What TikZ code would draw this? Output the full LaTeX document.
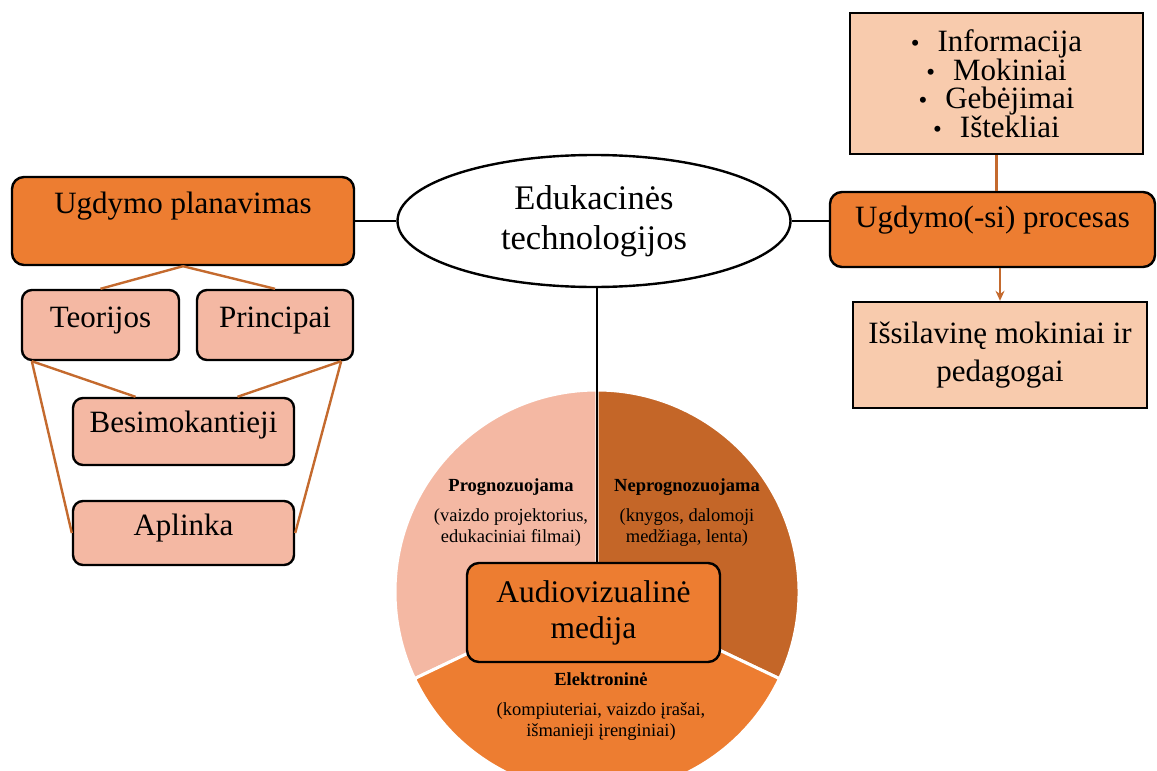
\documentclass[tikz,border=0pt]{standalone}
\usepackage{fontspec}
\setmainfont{Liberation Serif}
\usetikzlibrary{shapes.geometric,arrows.meta}

\definecolor{orangebox}{HTML}{ED7D31}
\definecolor{pinkbox}{HTML}{F4B8A3}
\definecolor{peachbox}{HTML}{F8CBAD}
\definecolor{darkpie}{HTML}{C46628}
\definecolor{linkcol}{HTML}{C46A2E}

\newcommand{\itm}[1]{{\fontsize{25}{25}\selectfont\textbullet}\hspace{18pt}#1}

\begin{document}
\begin{tikzpicture}[x=1pt,y=-1pt,
  sbox/.style={draw,line width=2.4pt,inner sep=0pt,align=center,font=\fontsize{31}{35}\selectfont},
  rbox/.style={sbox,rounded corners=12pt},
  link/.style={draw=linkcol,line width=2.4pt},
  joint/.style={draw=black,line width=2.4pt},
  piebit/.style={draw=white,line width=3pt},
  pietext/.style={align=center,font=\fontsize{18.5}{21}\selectfont}]
\clip (0,0) rectangle (1157,771);

% pie of media
\coordinate (pie) at (597,592);
\filldraw[piebit,fill=pinkbox] (pie) -- ++(-90:202) arc[start angle=-90,end angle=-205.4,radius=202] -- cycle;
\filldraw[piebit,fill=darkpie] (pie) -- ++(25.4:202) arc[start angle=25.4,end angle=-90,radius=202] -- cycle;
\filldraw[piebit,fill=orangebox] (pie) -- ++(154.6:202) arc[start angle=154.6,end angle=25.4,radius=202] -- cycle;

\node[pietext] (prog) at (511,513) {\textbf{Prognozuojama}\\[9pt](vaizdo projektorius,\\edukaciniai filmai)};
\node[pietext] (neprog) at (687,513) {\textbf{Neprognozuojama}\\[9pt](knygos, dalomoji\\medžiaga, lenta)};
\node[pietext] (elek) at (601,707) {\textbf{Elektroninė}\\[9pt](kompiuteriai, vaizdo įrašai,\\išmanieji įrenginiai)};

% centre
\node[draw,ellipse,line width=2.4pt,fill=white,minimum width=393pt,minimum height=132pt,inner sep=0pt,align=center,font=\fontsize{34.5}{40}\selectfont] (tech) at (594,221) {Edukacinės\\technologijos};

% left branch
\node[rbox,fill=orangebox,minimum width=342pt,text height=36pt,text depth=52pt] (plan) at (183,221) {Ugdymo planavimas};
\node[rbox,fill=pinkbox,rounded corners=10pt,minimum width=157pt,text height=37pt,text depth=33pt] (teo) at (100.5,325) {Teorijos};
\node[rbox,fill=pinkbox,rounded corners=10pt,minimum width=156pt,text height=37pt,text depth=33pt] (prin) at (275,325) {Principai};
\node[rbox,fill=pinkbox,rounded corners=10pt,minimum width=221pt,text height=34pt,text depth=33pt] (besi) at (183.5,431.5) {Besimokantieji};
\node[rbox,fill=pinkbox,rounded corners=10pt,minimum width=221pt,text height=34pt,text depth=30pt] (apl) at (183.5,533) {Aplinka};

% right branch
\node[sbox,fill=peachbox,minimum width=293pt,minimum height=141pt,font=\fontsize{31}{28.5}\selectfont] (info) at (996.5,83.5) {\itm{Informacija}\\\itm{Mokiniai}\\\itm{Gebėjimai}\\\itm{Ištekliai}};
\node[rbox,fill=orangebox,minimum width=325pt,text height=35pt,text depth=40pt] (proc) at (992.5,229.5) {Ugdymo(-si) procesas};
\node[sbox,fill=peachbox,minimum width=294pt,minimum height=106pt,font=\fontsize{31}{38}\selectfont] (out) at (1000,355) {Išsilavinę mokiniai ir\\pedagogai};

% bottom
\node[rbox,fill=orangebox,minimum width=253pt,minimum height=99pt,font=\fontsize{31.5}{36}\selectfont] (media) at (593.5,612.5) {Audiovizualinė\\medija};

% connectors
\draw[joint] (plan.east) -- (tech.west);
\draw[joint] (tech.east) -- (tech.east -| proc.west);
\draw[joint] (tech.south -| pie) -- (media.north -| pie);

\draw[link] (plan.south) -- (teo.north);
\draw[link] (plan.south) -- (prin.north);
\draw[link] ([xshift=11pt]teo.south west) -- ([xshift=-48pt]besi.north);
\draw[link] ([xshift=-13pt]prin.south east) -- ([xshift=54pt]besi.north);
\draw[link] ([xshift=11pt]teo.south west) -- (apl.west);
\draw[link] ([xshift=-13pt]prin.south east) -- (apl.east);

\draw[link] (info.south) -- (info.south |- proc.north);
\draw[link,-{Stealth[length=10pt,width=9pt]}] (proc.south -| out.north) -- (out.north);
\end{tikzpicture}
\end{document}
